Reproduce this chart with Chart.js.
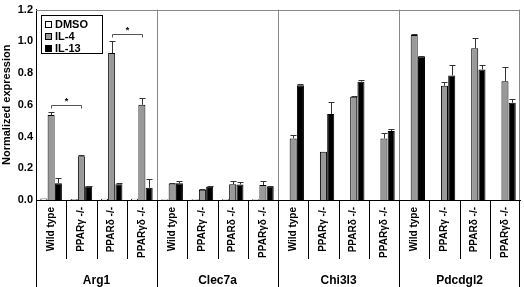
<!DOCTYPE html>
<html>
<head>
<meta charset="utf-8">
<script src="https://cdn.jsdelivr.net/npm/chart.js@4/dist/chart.umd.min.js"></script>
<style>
html,body{margin:0;padding:0;background:#fff;}
#wrap{width:524px;height:287px;position:relative;}
</style>
</head>
<body>
<div id="wrap"><canvas id="c" width="524" height="287"></canvas></div>
<script>
// ---- data ----
const genes = ['Arg1', 'Clec7a', 'Chi3l3', 'Pdcdgl2'];
const genotypes = ['Wild type', 'PPARγ -/-', 'PPARδ -/-', 'PPARγδ -/-'];
const seriesNames = ['DMSO', 'IL-4', 'IL-13'];
const dmso  = [0.01, 0.006, 0.008, 0.008,  0.005, 0.005, 0.005, 0.005,  0, 0, 0, 0,  0, 0, 0, 0];
const il4   = [0.535, 0.276, 0.926, 0.60,  0.104, 0.065, 0.10, 0.094,  0.388, 0.304, 0.65, 0.388,  1.04, 0.72, 0.957, 0.748];
const il13  = [0.106, 0.086, 0.10, 0.077,  0.105, 0.083, 0.098, 0.083,  0.724, 0.542, 0.746, 0.435,  0.905, 0.785, 0.822, 0.613];
const il4Err  = [0.02, 0.008, 0.075, 0.04,  0.006, 0.006, 0.018, 0.024,  0.022, 0.0, 0.005, 0.032,  0.006, 0.025, 0.061, 0.09];
const il13Err = [0.03, 0.005, 0.008, 0.053,  0.015, 0.007, 0.017, 0.006,  0.004, 0.078, 0.009, 0.015,  0.005, 0.068, 0.028, 0.023];
const yTicks = [0, 0.2, 0.4, 0.6, 0.8, 1.0, 1.2];
// significance brackets: between IL-4 bars of category indices, at y value
const sigFrom = [0, 2];
const sigTo   = [1, 3];
const sigY    = [0.60, 1.045];

const labels = [];
genes.forEach(() => genotypes.forEach(g => labels.push(g)));

const FONT = 'Arial, "Liberation Sans", sans-serif';

const decor = {
  id: 'decor',
  afterDatasetsDraw(chart) {
    const ctx = chart.ctx;
    const ca = chart.chartArea;
    const x = chart.scales.x;
    const y = chart.scales.y;
    const H = chart.height;
    const n = labels.length;
    ctx.save();
    // error bars
    const drawErr = (dsIndex, vals, errs) => {
      const meta = chart.getDatasetMeta(dsIndex);
      meta.data.forEach((bar, i) => {
        if (!errs[i]) return;
        const cx = bar.x;
        const y0 = y.getPixelForValue(vals[i]);
        const y1 = y.getPixelForValue(vals[i] + errs[i]);
        ctx.strokeStyle = '#333';
        ctx.lineWidth = 1;
        ctx.beginPath();
        ctx.moveTo(Math.round(cx) + 0.5, y0);
        ctx.lineTo(Math.round(cx) + 0.5, Math.round(y1) + 0.5);
        ctx.moveTo(Math.round(cx) - 2.5, Math.round(y1) + 0.5);
        ctx.lineTo(Math.round(cx) + 3.5, Math.round(y1) + 0.5);
        ctx.stroke();
      });
    };
    drawErr(1, il4, il4Err);
    drawErr(2, il13, il13Err);

    // significance brackets
    const m1 = chart.getDatasetMeta(1);
    sigFrom.forEach((f, k) => {
      const xa = Math.round(m1.data[f].x) + 0.5;
      const xb = Math.round(m1.data[sigTo[k]].x) + 0.5;
      const yy = Math.round(y.getPixelForValue(sigY[k])) + 0.5;
      ctx.strokeStyle = '#555';
      ctx.lineWidth = 1;
      ctx.beginPath();
      ctx.moveTo(xa, yy + 3);
      ctx.lineTo(xa, yy);
      ctx.lineTo(xb, yy);
      ctx.lineTo(xb, yy + 3);
      ctx.stroke();
      ctx.fillStyle = '#000';
      ctx.font = 'bold 9px ' + FONT;
      ctx.textAlign = 'center';
      ctx.textBaseline = 'middle';
      ctx.fillText('*', (xa + xb) / 2, yy - 4);
    });

    // frame: top in gray
    ctx.strokeStyle = '#888';
    ctx.lineWidth = 1;
    ctx.beginPath();
    ctx.moveTo(ca.left, Math.round(ca.top) + 0.5);
    ctx.lineTo(ca.right, Math.round(ca.top) + 0.5);
    ctx.stroke();

    // separators
    for (let i = 0; i <= n; i++) {
      let bx;
      if (i === 0) bx = ca.left;
      else if (i === n) bx = ca.right - 1;
      else bx = (x.getPixelForValue(i - 1) + x.getPixelForValue(i)) / 2;
      bx = Math.round(bx) + 0.5;
      const isGroup = i % genotypes.length === 0;
      if (isGroup) {
        if (i !== 0) {
          ctx.strokeStyle = '#888';
          ctx.beginPath();
          ctx.moveTo(bx, ca.top);
          ctx.lineTo(bx, ca.bottom);
          ctx.stroke();
        }
        ctx.strokeStyle = '#000';
        ctx.beginPath();
        ctx.moveTo(bx, ca.bottom);
        ctx.lineTo(bx, H);
        ctx.stroke();
      } else {
        ctx.strokeStyle = '#000';
        ctx.beginPath();
        ctx.moveTo(bx, ca.bottom);
        ctx.lineTo(bx, ca.bottom + 59);
        ctx.stroke();
      }
    }

    // legend
    const lx = ca.left + 5, ly = ca.top + 5;
    const lw = 61, lh = 38;
    ctx.strokeStyle = '#000';
    ctx.lineWidth = 1;
    ctx.strokeRect(Math.round(lx) + 0.5, Math.round(ly) + 0.5, lw, lh);
    ctx.font = 'bold 11px ' + FONT;
    ctx.textAlign = 'left';
    ctx.textBaseline = 'middle';
    chart.data.datasets.forEach((ds, k) => {
      const cy = Math.round(ly) + 9 + k * 12;
      ctx.fillStyle = ds.backgroundColor;
      ctx.fillRect(Math.round(lx) + 4, cy - 3, 7, 7);
      ctx.strokeStyle = '#000';
      ctx.strokeRect(Math.round(lx) + 4.5, cy - 2.5, 6, 6);
      ctx.fillStyle = '#000';
      ctx.fillText(ds.label, Math.round(lx) + 14, cy + 1);
    });
    ctx.restore();
  }
};

new Chart(document.getElementById('c'), {
  type: 'bar',
  data: {
    labels: labels,
    datasets: [
      { label: seriesNames[0], data: dmso, backgroundColor: '#ffffff', borderColor: '#000', borderWidth: 1 },
      { label: seriesNames[1], data: il4,  backgroundColor: '#999999', borderColor: '#000', borderWidth: 1 },
      { label: seriesNames[2], data: il13, backgroundColor: '#000000', borderColor: '#000', borderWidth: 1 }
    ]
  },
  options: {
    responsive: false,
    animation: false,
    devicePixelRatio: 1,
    layout: { padding: { top: 4, right: 1, left: 0, bottom: 0 } },
    datasets: { bar: { categoryPercentage: 0.72, barPercentage: 0.97 } },
    plugins: { legend: { display: false }, tooltip: { enabled: false } },
    scales: {
      y: {
        min: 0, max: 1.2,
        afterBuildTicks: (s) => { s.ticks = yTicks.map(v => ({ value: v })); },
        ticks: { font: { family: FONT, size: 11, weight: 'bold' }, color: '#000', padding: 3,
                 callback: (v) => Number(v).toFixed(1) },
        grid: { display: false, drawTicks: false },
        border: { display: true, color: '#000', width: 1 },
        title: { display: true, text: 'Normalized expression', color: '#000',
                 font: { family: FONT, size: 11, weight: 'bold' }, padding: { top: 0, bottom: 0 } },
        afterFit: (s) => { s.width = 36; }
      },
      x: {
        type: 'category',
        weight: 0,
        offset: true,
        ticks: { autoSkip: false, minRotation: 90, maxRotation: 90, color: '#000', padding: 7,
                 font: { family: FONT, size: 10, weight: 'bold' } },
        grid: { display: false, drawTicks: false },
        border: { display: true, color: '#000', width: 1 },
        afterFit: (s) => { s.height = 62; }
      },
      x2: {
        type: 'category',
        position: 'bottom',
        weight: 1,
        offset: true,
        labels: genes,
        ticks: { color: '#000', padding: 11, font: { family: FONT, size: 12, weight: 'bold' } },
        grid: { display: false, drawTicks: false },
        border: { display: false },
        afterFit: (s) => { s.height = 25; }
      }
    }
  },
  plugins: [decor]
});
</script>
</body>
</html>
